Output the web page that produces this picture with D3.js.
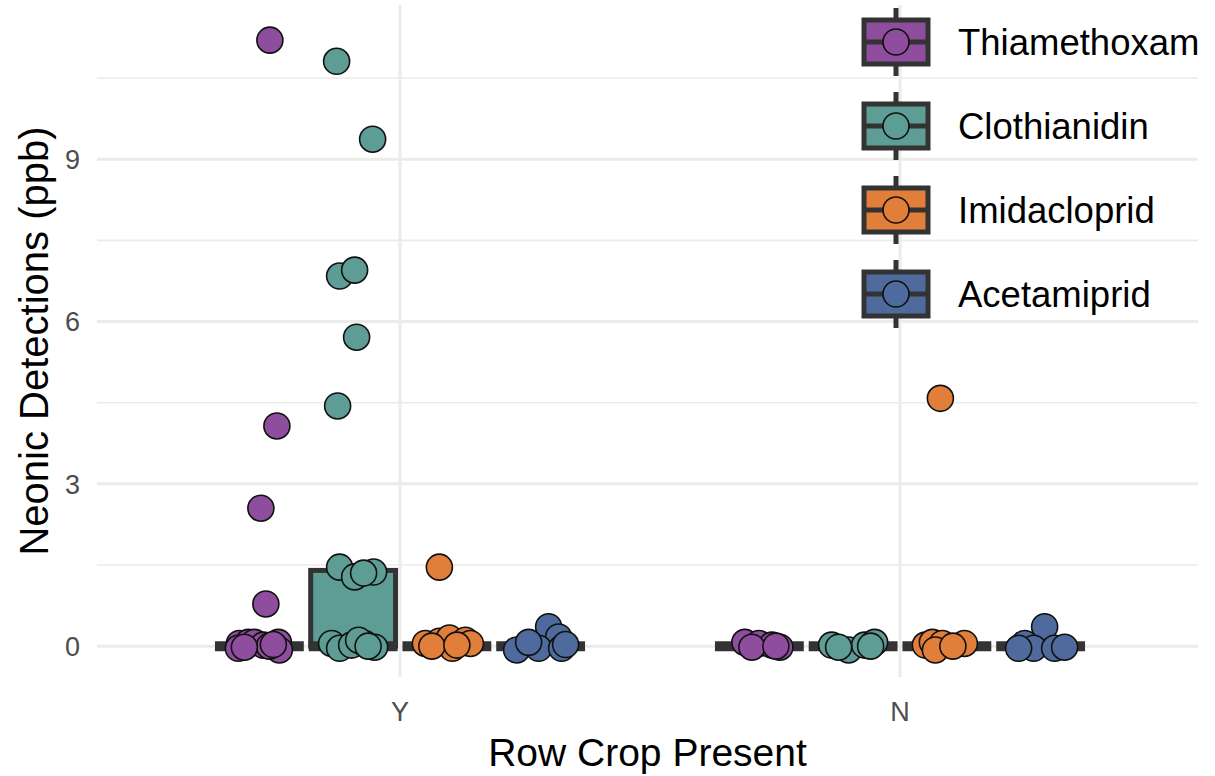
<!DOCTYPE html>
<html>
<head>
<meta charset="utf-8">
<script src="https://cdn.jsdelivr.net/npm/d3@7"></script>
<style>
  html, body { margin: 0; padding: 0; background: #ffffff; }
  svg { display: block; font-family: "Liberation Sans", Arial, Helvetica, sans-serif; }
</style>
</head>
<body>
<svg id="chart" width="1215" height="776"></svg>
<script>
// ---------------- data ----------------
const crops = ["Y", "N"];
const compounds = ["Thiamethoxam", "Clothianidin", "Imidacloprid", "Acetamiprid"];
const colors = ["#8E4D9D", "#5E9C96", "#E07E3A", "#4F6B9E"];
const yTicks = [0, 3, 6, 9];
const yMinorTicks = [1.5, 4.5, 7.5, 10.5];
const xTitle = "Row Crop Present";
const yTitle = "Neonic Detections (ppb)";

// box statistics per crop (rows) x compound (cols)
const boxQ1     = [[0, 0, 0, 0], [0, 0, 0, 0]];
const boxMedian = [[0, 0, 0, 0], [0, 0, 0, 0]];
const boxQ3     = [[0, 1.4, 0, 0], [0, 0, 0, 0]];

// observed (jittered) detections; jitter = horizontal offset in category units
const valY_Thia = [11.2, 4.07, 2.55, 0.78, 0.05, 0.07, 0.07, 0.02, 0.07, -0.07, -0.04, 0.0, -0.02, 0.03];
const jitY_Thia = [0.021, 0.035, 0.003, 0.013, -0.040, -0.022, -0.010, 0.008, 0.038, 0.040, -0.042, 0.020, -0.030, 0.028];
const valY_Clot = [10.81, 9.37, 6.84, 6.95, 5.71, 4.44, 1.46, 1.28, 1.37, 1.35, 0.05, -0.04, 0.02, 0.05, -0.02, 0.11, 0.0];
const jitY_Clot = [-0.033, 0.039, -0.027, 0.003, 0.007, -0.031, -0.027, 0.003, 0.041, 0.021, -0.043, -0.027, -0.003, 0.023, 0.043, 0.011, 0.030];
const valY_Imid = [1.46, 0.05, 0.09, -0.04, 0.15, 0.11, 0.05, 0.0, 0.02];
const jitY_Imid = [-0.015, -0.043, -0.015, 0.011, 0.005, 0.037, 0.047, -0.030, 0.020];
const valY_Acet = [0.36, 0.17, -0.07, -0.04, -0.04, 0.07, 0.03];
const jitY_Acet = [0.016, 0.036, -0.048, -0.004, 0.042, -0.024, 0.050];

const valN_Thia = [0.07, 0.05, 0.02, -0.02, -0.02, 0.0];
const jitN_Thia = [-0.029, -0.001, 0.025, 0.041, -0.015, 0.033];
const valN_Clot = [0.02, -0.07, 0.02, 0.07, -0.02, 0.0];
const jitN_Clot = [-0.043, -0.009, 0.023, 0.043, -0.029, 0.035];
const valN_Imid = [4.58, 0.02, 0.07, 0.05, 0.05, -0.07, 0.0];
const jitN_Imid = [-0.013, -0.043, -0.029, -0.009, 0.035, -0.023, 0.012];
const valN_Acet = [0.36, 0.05, -0.04, -0.04, -0.04, -0.02];
const jitN_Acet = [0.008, -0.032, -0.014, 0.028, -0.044, 0.048];

const groups = [
  { crop: "Y", compound: "Thiamethoxam", values: valY_Thia, jitter: jitY_Thia },
  { crop: "Y", compound: "Clothianidin", values: valY_Clot, jitter: jitY_Clot },
  { crop: "Y", compound: "Imidacloprid", values: valY_Imid, jitter: jitY_Imid },
  { crop: "Y", compound: "Acetamiprid",  values: valY_Acet, jitter: jitY_Acet },
  { crop: "N", compound: "Thiamethoxam", values: valN_Thia, jitter: jitN_Thia },
  { crop: "N", compound: "Clothianidin", values: valN_Clot, jitter: jitN_Clot },
  { crop: "N", compound: "Imidacloprid", values: valN_Imid, jitter: jitN_Imid },
  { crop: "N", compound: "Acetamiprid",  values: valN_Acet, jitter: jitN_Acet }
];

// ---------------- layout ----------------
const svg = d3.select("#chart");
const panel = { left: 100, right: 1200, top: 5, bottom: 677 };
const gridLeft = 97, gridRight = 1198;

const x = d3.scaleBand().domain(crops).range([panel.left, panel.right]).paddingInner(0).paddingOuter(0.1);
const dodge = d3.scaleBand().domain(compounds).range([-x.step() * 0.375, x.step() * 0.375]).padding(0);
const boxW = dodge.bandwidth() * 0.905;
const y = d3.scaleLinear().domain([-0.57, 11.85]).range([panel.bottom, panel.top]);
const color = d3.scaleOrdinal().domain(compounds).range(colors);

const grid = svg.append("g");
grid.selectAll("line.minor").data(yMinorTicks).join("line")
  .attr("x1", gridLeft).attr("x2", gridRight)
  .attr("y1", d => y(d)).attr("y2", d => y(d))
  .attr("stroke", "#ebebeb").attr("stroke-width", 1.6);
grid.selectAll("line.major").data(yTicks).join("line")
  .attr("x1", gridLeft).attr("x2", gridRight)
  .attr("y1", d => y(d)).attr("y2", d => y(d))
  .attr("stroke", "#ebebeb").attr("stroke-width", 3);
grid.selectAll("line.vert").data(crops).join("line")
  .attr("x1", d => x(d) + x.bandwidth() / 2).attr("x2", d => x(d) + x.bandwidth() / 2)
  .attr("y1", panel.top).attr("y2", panel.bottom)
  .attr("stroke", "#ebebeb").attr("stroke-width", 3);

// axes labels
const yAxis = d3.axisLeft(y).tickValues(yTicks).tickSize(0).tickPadding(0).tickFormat(d3.format("d"));
const yAxisG = svg.append("g").attr("transform", `translate(${gridLeft - 17},0)`).call(yAxis);
yAxisG.select(".domain").remove();
yAxisG.selectAll("text").attr("fill", "#4d4d4d").style("font-size", "27px").attr("dy", "0.35em");

const xAxis = d3.axisBottom(x).tickSize(0).tickPadding(0);
const xAxisG = svg.append("g").attr("transform", `translate(0,${panel.bottom + 25})`).call(xAxis);
xAxisG.select(".domain").remove();
xAxisG.selectAll("text").attr("fill", "#4d4d4d").style("font-size", "27px").attr("dy", "0.71em");

svg.append("text")
  .attr("x", (gridLeft + gridRight) / 2).attr("y", 766)
  .attr("text-anchor", "middle").style("font-size", "39px").attr("fill", "#000")
  .text(xTitle);
svg.append("text")
  .attr("transform", `translate(48,${(panel.top + panel.bottom) / 2}) rotate(-90)`)
  .attr("text-anchor", "middle").style("font-size", "40px").attr("fill", "#000")
  .text(yTitle);

// boxes
const boxData = [];
crops.forEach((c, ci) => compounds.forEach((k, ki) => {
  boxData.push({ crop: c, compound: k, q1: boxQ1[ci][ki], med: boxMedian[ci][ki], q3: boxQ3[ci][ki] });
}));
const cx = d => x(d.crop) + x.bandwidth() / 2 + dodge(d.compound) + dodge.bandwidth() / 2;
const boxes = svg.append("g");
boxData.forEach(b => {
  const c = cx(b);
  if (b.q3 > b.q1) {
    boxes.append("rect")
      .attr("x", c - boxW / 2).attr("width", boxW)
      .attr("y", y(b.q3)).attr("height", y(b.q1) - y(b.q3))
      .attr("fill", color(b.compound)).attr("stroke", "#333333").attr("stroke-width", 5);
  }
  boxes.append("line")
    .attr("x1", c - boxW / 2 - 2).attr("x2", c + boxW / 2 + 2)
    .attr("y1", y(b.med)).attr("y2", y(b.med))
    .attr("stroke", "#333333").attr("stroke-width", 10);
});

// points
const pts = [];
groups.forEach(g => g.values.forEach((v, i) => pts.push({ crop: g.crop, compound: g.compound, v, j: g.jitter[i] })));
svg.append("g").selectAll("circle").data(pts).join("circle")
  .attr("cx", d => cx(d) + d.j * x.step())
  .attr("cy", d => y(d.v))
  .attr("r", 13)
  .attr("fill", d => color(d.compound))
  .attr("stroke", "#111").attr("stroke-width", 1.6);

// legend
const legY = d3.scalePoint().domain(compounds).range([42, 294]);
const lg = svg.append("g");
compounds.forEach(k => {
  const cy = legY(k), kx = 896;
  const g = lg.append("g");
  g.append("line").attr("x1", kx).attr("x2", kx).attr("y1", cy - 34).attr("y2", cy + 34)
    .attr("stroke", "#333333").attr("stroke-width", 5);
  g.append("rect").attr("x", kx - 32).attr("y", cy - 22).attr("width", 64).attr("height", 44)
    .attr("fill", color(k)).attr("stroke", "#333333").attr("stroke-width", 5);
  g.append("line").attr("x1", kx - 32).attr("x2", kx + 32).attr("y1", cy).attr("y2", cy)
    .attr("stroke", "#333333").attr("stroke-width", 5);
  g.append("circle").attr("cx", kx).attr("cy", cy).attr("r", 13)
    .attr("fill", color(k)).attr("stroke", "#111").attr("stroke-width", 1.6);
  g.append("text").attr("x", 958).attr("y", cy).attr("dy", "0.36em")
    .style("font-size", "36.5px").attr("fill", "#000").text(k);
});
</script>
</body>
</html>
